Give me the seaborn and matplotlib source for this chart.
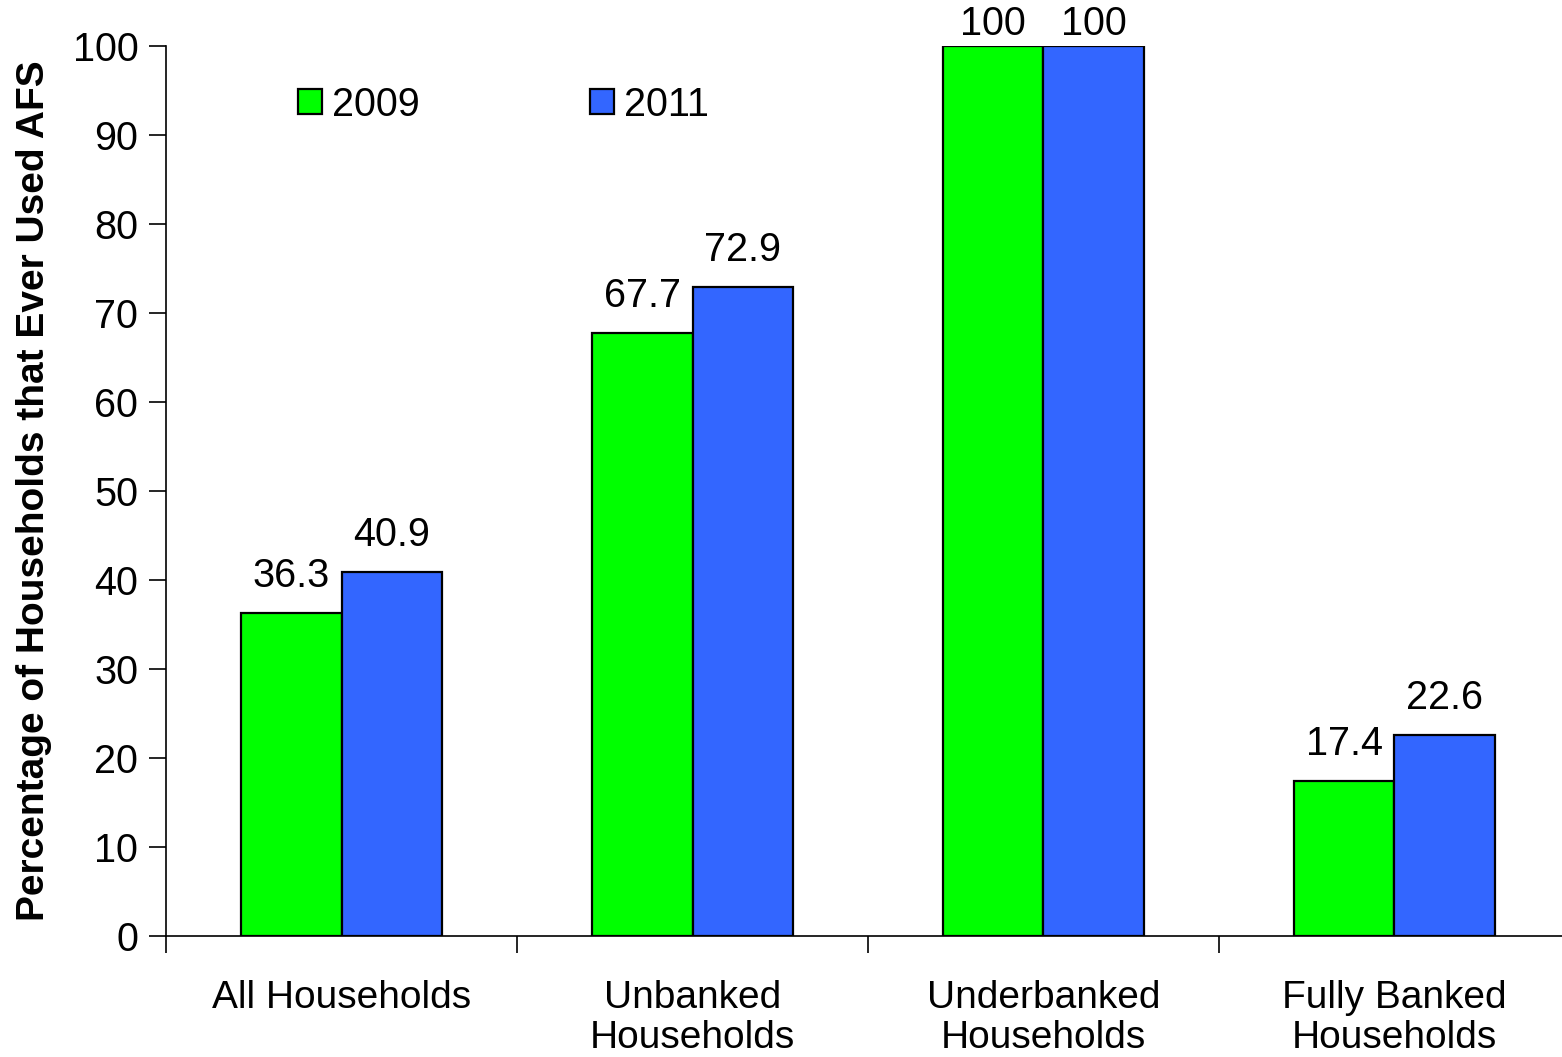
import matplotlib
matplotlib.use("Agg")
import matplotlib.pyplot as plt
from matplotlib.ticker import FixedLocator
import seaborn as sns
import pandas as pd

categories = ["All Households", "Unbanked\nHouseholds", "Underbanked\nHouseholds", "Fully Banked\nHouseholds"]
years = ["2009", "2011"]
values_2009 = [36.3, 67.7, 100, 17.4]
values_2011 = [40.9, 72.9, 100, 22.6]
colors = ["#00FF00", "#3366FF"]

df = pd.DataFrame({
    "Category": categories * 2,
    "Year": [years[0]] * 4 + [years[1]] * 4,
    "Value": values_2009 + values_2011,
})

sns.set_theme(style="white")
plt.rcParams["font.family"] = ["Liberation Sans", "DejaVu Sans"]
plt.rcParams["text.color"] = "black"
plt.rcParams["axes.labelcolor"] = "black"
plt.rcParams["xtick.color"] = "black"
plt.rcParams["ytick.color"] = "black"

fig = plt.figure(figsize=(15.62, 10.57), dpi=100)
ax = fig.add_axes([0.1063, 0.1145, 0.8988, 0.842])

sns.barplot(data=df, x="Category", y="Value", hue="Year", palette=colors,
            saturation=1, width=0.573, edgecolor="black", linewidth=1.6, ax=ax,
            order=categories, hue_order=years)

# value labels; the full-height bars sit closer to their labels to stay in frame
for cont in ax.containers:
    vals = cont.datavalues
    ax.bar_label(cont, labels=[f"{v:g}" if v < 100 else "" for v in vals],
                 padding=13, fontsize=28.5, color="black")
    ax.bar_label(cont, labels=[f"{v:g}" if v >= 100 else "" for v in vals],
                 padding=2, fontsize=28.5, color="black")

ax.set_xlim(-0.5, 3.5)
ax.set_ylim(0, 100)
ax.set_yticks(range(0, 101, 10))
ax.tick_params(axis="y", labelsize=28.5, length=12, width=1.2, direction="out",
               left=True, pad=8)
ax.tick_params(axis="x", which="major", length=0, labelsize=28, pad=32,
               labelcolor="black")
for lbl in ax.get_xticklabels():
    lbl.set_linespacing(1.12)
ax.xaxis.set_minor_locator(FixedLocator([-0.5, 0.5, 1.5, 2.5]))
ax.tick_params(axis="x", which="minor", length=12, width=1.2, bottom=True,
               direction="out")
ax.set_xlabel("")
ax.set_ylabel("Percentage of Households that Ever Used AFS",
              fontsize=28, fontweight="bold", labelpad=15)

for s in ["top", "right"]:
    ax.spines[s].set_visible(False)
for s in ["left", "bottom"]:
    ax.spines[s].set_color("black")
    ax.spines[s].set_linewidth(1.2)

ax.legend(loc="upper left", bbox_to_anchor=(0.083, 0.973), ncol=2, frameon=False,
          fontsize=28.5, handlelength=0.6, handleheight=0.6, handletextpad=0.25,
          columnspacing=4.3, borderaxespad=0)

fig.savefig("out.png", dpi=100)
